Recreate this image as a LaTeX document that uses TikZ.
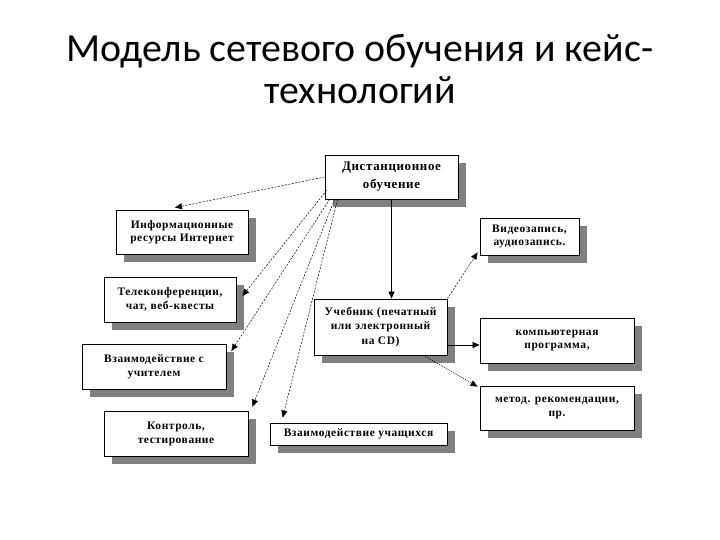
\documentclass[tikz,border=0pt]{standalone}
\usepackage{fontspec}
\setmainfont{Liberation Serif}[LetterSpace=5]
\newfontfamily\titlefont{Carlito}
\usetikzlibrary{shadows,arrows.meta,calc}
\tikzset{
  box/.style={draw=black, line width=0.8bp, fill=white, align=center, inner sep=2bp,
    font=\fontsize{11.5}{14}\selectfont\bfseries,
    general shadow={fill=black!50, shadow xshift=8bp, shadow yshift=-8bp}},
  dconn/.style={line width=0.5bp, dash pattern=on 2bp off 1.5bp, -{Triangle[length=7bp,width=6bp]}},
  sconn/.style={line width=0.7bp, -{Triangle[length=7bp,width=6bp]}},
  pconn/.style={line width=0.5bp, dash pattern=on 1bp off 1bp}
}
\begin{document}
\begin{tikzpicture}[x=1bp,y=-1bp]
\useasboundingbox[fill=white] (0,0) rectangle (720,540);
\node[font=\titlefont\fontsize{40}{43}\selectfont, anchor=base] (t1) at (360,62) {Модель сетевого обучения и кейс-};
\node[font=\titlefont\fontsize{40}{43}\selectfont, anchor=base] (t2) at (360,104) {технологий};

\node[box, minimum width=133bp, minimum height=44bp, font=\fontsize{13}{18}\selectfont\bfseries] (dist) at (391.5,177) {Дистанционное\\обучение};
\node[box, minimum width=132bp, minimum height=44bp, font=\fontsize{11.5}{13}\selectfont\bfseries] (info) at (182,232) {Информационные\\ресурсы Интернет};
\node[box, minimum width=132bp, minimum height=45bp] (tele) at (170,299.5) {Телеконференции,\\чат, веб-квесты};
\node[box, minimum width=144bp, minimum height=45bp] (vzu) at (154,366.5) {Взаимодействие с\\учителем};
\node[box, minimum width=144bp, minimum height=45bp] (kontr) at (176,433.5) {Контроль,\\тестирование};
\node[box, minimum width=177bp, minimum height=22bp] (vzuch) at (358.5,434) {Взаимодействие учащихся};
\node[box, minimum width=133bp, minimum height=56bp, font=\fontsize{11.5}{14.5}\selectfont\bfseries] (ucheb) at (380.5,327) {Учебник (печатный\\или электронный\\на CD)};
\node[box, minimum width=99bp, minimum height=37bp] (video) at (529.5,236.5) {Видеозапись,\\аудиозапись.};
\node[box, minimum width=154bp, minimum height=45bp] (komp) at (557,340.5) {компьютерная\\программа,};
\node[box, minimum width=154bp, minimum height=44bp] (metod) at (557,408) {метод. рекомендации,\\пр.};

\coordinate (kin) at ([yshift=-4.5bp]komp.west);
\draw[dconn] (dist.west) -- ([xshift=-7bp,yshift=2bp]info.north);
\draw[dconn] ([xshift=2bp,yshift=9bp]dist.south west) -- ([xshift=6bp,yshift=3.5bp]tele.east);
\draw[dconn] ([xshift=5bp]dist.south west) -- ([xshift=5bp,yshift=15.5bp]vzu.east);
\draw[dconn] ([xshift=10bp]dist.south west) -- ([xshift=4bp,yshift=4bp]kontr.north east);
\draw[dconn] ([xshift=13bp]dist.south west) -- ([xshift=13bp,yshift=5bp]vzuch.north west);
\draw[sconn] (dist.south) -- (dist.south |- ucheb.north);
\draw[dconn] (ucheb.north east) -- ([xshift=-2bp,yshift=3bp]video.south west);
\draw[sconn] (ucheb.east |- kin) -- (kin);
\draw[pconn, -{Triangle[length=7bp,width=6bp]}] ([xshift=-24bp]ucheb.south east) -- ([xshift=-2bp,yshift=-1bp]metod.north west);
\end{tikzpicture}
\end{document}
